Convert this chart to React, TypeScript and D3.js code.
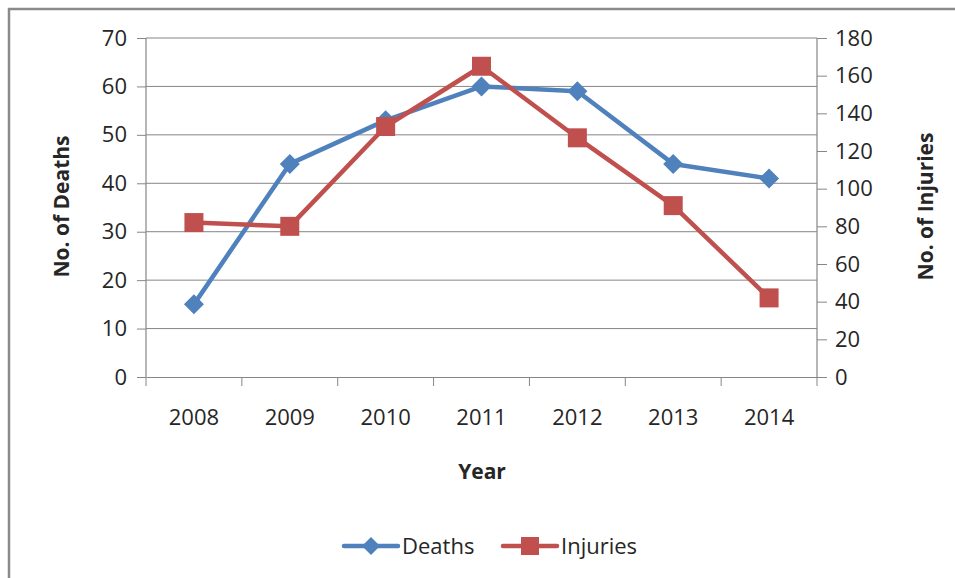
import { useRef, useEffect } from "react";
import * as d3 from "d3";

const years = ["2008", "2009", "2010", "2011", "2012", "2013", "2014"];
const deaths = [15, 44, 53, 60, 59, 44, 41];
const injuries = [82, 80, 133, 165, 127, 91, 42];
const deathTicks = [0, 10, 20, 30, 40, 50, 60, 70];
const injuryTicks = [0, 20, 40, 60, 80, 100, 120, 140, 160, 180];

const BLUE = "#4f81bd";
const RED = "#c0504d";
const GRID = "#868686";
const TEXT = "#262626";
const FONT = "'Open Sans', sans-serif";

export default function App() {
  const svgRef = useRef<SVGSVGElement>(null);

  useEffect(() => {
    const svg = d3.select(svgRef.current);
    svg.selectAll("*").remove();

    const width = 955;
    const height = 578;
    const left = 146, right = 817, top = 38, bottom = 377;

    svg.attr("width", width).attr("height", height);

    // outer chart border (only left/top visible in the crop)
    svg.append("rect")
      .attr("x", 9).attr("y", 9)
      .attr("width", width + 20).attr("height", height + 20)
      .attr("fill", "#fff")
      .attr("stroke", "#8a8a8a")
      .attr("stroke-width", 2.5);

    const x = d3.scaleBand().domain(years).range([left, right]);
    const yL = d3.scaleLinear().domain([0, 70]).range([bottom, top]);
    const yR = d3.scaleLinear().domain([0, 180]).range([bottom, top]);

    // gridlines
    svg.append("g")
      .selectAll("line")
      .data(deathTicks.slice(1))
      .join("line")
      .attr("x1", left).attr("x2", right)
      .attr("y1", (d) => yL(d)).attr("y2", (d) => yL(d))
      .attr("stroke", GRID).attr("stroke-width", 1);

    // left axis
    const gl = svg.append("g").attr("transform", `translate(${left},0)`)
      .call(d3.axisLeft(yL).tickValues(deathTicks).tickSize(9).tickPadding(10));
    // right axis
    const gr = svg.append("g").attr("transform", `translate(${right},0)`)
      .call(d3.axisRight(yR).tickValues(injuryTicks).tickSize(10).tickPadding(8));
    // bottom axis with ticks between categories
    const gb = svg.append("g").attr("transform", `translate(0,${bottom})`)
      .call(d3.axisBottom(x).tickSize(0).tickPadding(32));
    gb.selectAll(".tick-sep")
      .data(years.concat(["end"]))
      .join("line")
      .attr("class", "tick-sep")
      .attr("x1", (d, i) => left + i * x.step())
      .attr("x2", (d, i) => left + i * x.step())
      .attr("y1", 0).attr("y2", 9)
      .attr("stroke", GRID);

    [gl, gr, gb].forEach((g) => {
      g.select(".domain").attr("stroke", GRID).attr("stroke-width", 1.2);
      g.selectAll(".tick line").attr("stroke", GRID);
      g.selectAll(".tick text")
        .attr("fill", TEXT)
        .style("font-family", FONT)
        .style("font-size", "22px");
    });
    gl.select(".domain").attr("d", `M0,${bottom}V${top}`);
    gr.select(".domain").attr("d", `M0,${bottom}V${top}`);

    const cx = (i: number) => (x(years[i]) as number) + x.bandwidth() / 2;

    const lineL = d3.line<number>().x((_, i) => cx(i)).y((d) => yL(d));
    const lineR = d3.line<number>().x((_, i) => cx(i)).y((d) => yR(d));

    svg.append("path").datum(deaths)
      .attr("d", lineL).attr("fill", "none")
      .attr("stroke", BLUE).attr("stroke-width", 4.5)
      .attr("stroke-linejoin", "round");
    svg.append("path").datum(injuries)
      .attr("d", lineR).attr("fill", "none")
      .attr("stroke", RED).attr("stroke-width", 4.5)
      .attr("stroke-linejoin", "round");

    const diamond = (s: number) => `M0,${-s}L${s},0L0,${s}L${-s},0Z`;

    svg.append("g").selectAll("path")
      .data(deaths)
      .join("path")
      .attr("d", diamond(10))
      .attr("transform", (d, i) => `translate(${cx(i)},${yL(d)})`)
      .attr("fill", BLUE);

    svg.append("g").selectAll("rect")
      .data(injuries)
      .join("rect")
      .attr("x", (d, i) => cx(i) - 9.5)
      .attr("y", (d) => yR(d) - 9.5)
      .attr("width", 19).attr("height", 19)
      .attr("fill", RED);

    // axis titles
    const titleStyle = (t: any) =>
      t.attr("text-anchor", "middle")
        .style("font-family", FONT).style("font-size", "21px").style("font-weight", "bold")
        .attr("fill", TEXT);
    svg.append("text")
      .attr("transform", `translate(69,${(top + bottom) / 2 - 1}) rotate(-90)`)
      .call(titleStyle)
      .text("No. of Deaths");
    svg.append("text")
      .attr("transform", `translate(933,${(top + bottom) / 2 - 1}) rotate(-90)`)
      .call(titleStyle)
      .text("No. of Injuries");
    svg.append("text")
      .attr("x", 482).attr("y", 479)
      .call(titleStyle)
      .text("Year");

    // legend
    const legendItems = [
      { name: "Deaths", color: BLUE, x: 344, shape: "diamond" },
      { name: "Injuries", color: RED, x: 503, shape: "square" },
    ];
    const ly = 546;
    const lg = svg.append("g").selectAll("g")
      .data(legendItems)
      .join("g")
      .attr("transform", (d) => `translate(${d.x},${ly})`);
    lg.append("line")
      .attr("x1", 0).attr("x2", 54).attr("y1", 0).attr("y2", 0)
      .attr("stroke", (d) => d.color).attr("stroke-width", 4.5)
      .attr("stroke-linecap", "round");
    lg.filter((d) => d.shape === "diamond")
      .append("path")
      .attr("d", diamond(9))
      .attr("transform", "translate(27,0)")
      .attr("fill", (d) => d.color);
    lg.filter((d) => d.shape === "square")
      .append("rect")
      .attr("x", 18).attr("y", -9).attr("width", 18).attr("height", 18)
      .attr("fill", (d) => d.color);
    lg.append("text")
      .attr("x", 58).attr("y", 0).attr("dy", "0.35em")
      .style("font-family", FONT).style("font-size", "22px")
      .attr("fill", TEXT)
      .text((d) => d.name);
  }, []);

  return (
    <svg
      ref={svgRef}
      style={{ position: "fixed", left: 0, top: 0, background: "#fff" }}
    />
  );
}
